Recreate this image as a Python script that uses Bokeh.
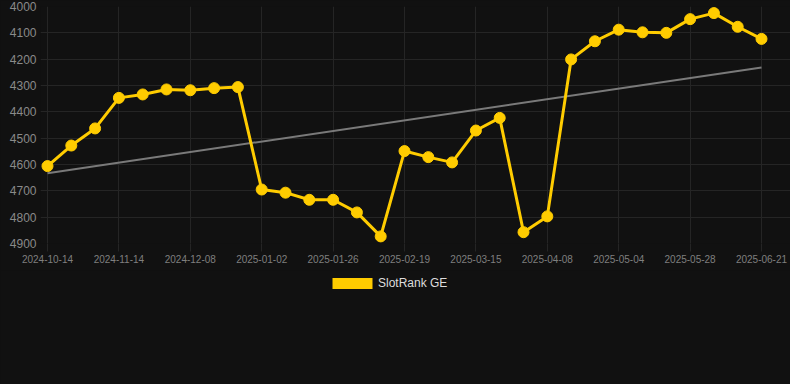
from bokeh.plotting import figure
from bokeh.layouts import column
from bokeh.models import Range1d, FixedTicker, Legend, LegendItem
from bokeh.embed import file_html
from bokeh.resources import INLINE

# --- data ---
ranks = [4606, 4528, 4463, 4347, 4334, 4315, 4318, 4310, 4306,
         4695, 4707, 4734, 4734, 4782, 4873, 4549, 4572, 4592,
         4471, 4423, 4857, 4797, 4201, 4132, 4088, 4098, 4100,
         4048, 4025, 4077, 4123]
tick_labels = ["2024-10-14", "2024-11-14", "2024-12-08", "2025-01-02",
               "2025-01-26", "2025-02-19", "2025-03-15", "2025-04-08",
               "2025-05-04", "2025-05-28", "2025-06-21"]
trend_values = [4633, 4232]
y_ticks = [4000, 4100, 4200, 4300, 4400, 4500, 4600, 4700, 4800, 4900]
series_name = "SlotRank GE"

GOLD = "#ffcc00"
BG = "#111111"
GRID = "#252525"

x = list(range(len(ranks)))
x_ticks = list(range(0, len(ranks), 3))

p = figure(width=790, height=270, output_backend="svg", toolbar_location=None,
           x_range=Range1d(-0.294, 31.218), y_range=Range1d(4900, 4000),
           min_border_left=40, min_border_right=0, min_border_top=6,
           min_border_bottom=27)
p.frame_align = False
p.styles = {"background-color": BG}

p.background_fill_color = BG
p.border_fill_color = BG
p.outline_line_color = None

# axes
p.xaxis.ticker = FixedTicker(ticks=x_ticks)
p.xaxis.major_label_overrides = {t: lab for t, lab in zip(x_ticks, tick_labels)}
p.xaxis.major_tick_out = 8
p.xaxis.major_tick_in = 0
p.xaxis.minor_tick_out = 0
p.xaxis.minor_tick_in = 0
p.xaxis.major_tick_line_color = GRID
p.xaxis.axis_line_color = None
p.xaxis.major_label_standoff = 3
p.xaxis.major_label_text_font = "Liberation Sans"
p.xaxis.major_label_text_font_size = "10px"
p.xaxis.major_label_text_color = "#7f7f7f"

p.yaxis.ticker = FixedTicker(ticks=y_ticks)
p.yaxis.major_tick_out = 0
p.yaxis.major_tick_in = 0
p.yaxis.minor_tick_out = 0
p.yaxis.minor_tick_in = 0
p.yaxis.axis_line_color = None
p.yaxis.major_label_standoff = 4
p.yaxis.major_label_text_font = "Liberation Sans"
p.yaxis.major_label_text_font_size = "12px"
p.yaxis.major_label_text_color = "#8a8a8a"

p.xgrid.grid_line_color = GRID
p.ygrid.grid_line_color = GRID

# trend line
p.line([x[0], x[-1]], trend_values, line_color="#7a7a7a", line_width=2)

# main series
p.line(x, ranks, line_color=GOLD, line_width=3)
p.scatter(x, ranks, size=11, fill_color=GOLD, line_color=GOLD)

# legend strip below the chart
p2 = figure(width=790, height=114, output_backend="svg", toolbar_location=None,
            x_range=Range1d(0, 1), y_range=Range1d(0, 1),
            x_axis_location=None, y_axis_location=None,
            min_border_left=0, min_border_right=0, min_border_top=0,
            min_border_bottom=0)
p2.frame_align = False
p2.styles = {"background-color": BG}
p2.background_fill_color = BG
p2.border_fill_color = BG
p2.outline_line_color = None
p2.xgrid.visible = False
p2.ygrid.visible = False

# swatch renderer: first data point, far outside this strip's ranges (only its legend glyph shows)
swatch = p2.quad(left=x[:1], right=x[:1], top=ranks[:1], bottom=ranks[:1],
                 fill_color=GOLD, line_color=None)
legend = Legend(items=[LegendItem(label=series_name, renderers=[swatch])],
                location=(327, 94), orientation="horizontal",
                padding=0, margin=0, spacing=0,
                glyph_width=50, glyph_height=14, label_height=14,
                label_standoff=1, label_text_color="#dddddd",
                label_text_font="Liberation Sans", label_text_font_size="12px",
                background_fill_alpha=0, border_line_alpha=0)
p2.add_layout(legend)

layout = column(p, p2, spacing=0, styles={"background-color": BG})
open("out.html", "w").write(file_html(layout, INLINE))
